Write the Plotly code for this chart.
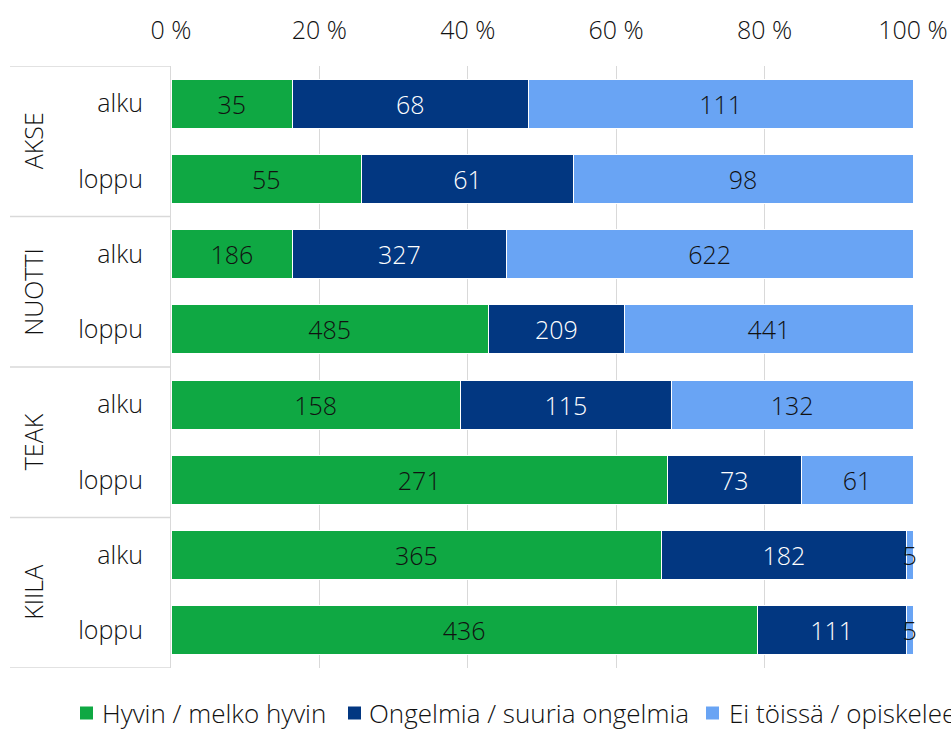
import plotly.graph_objects as go

groups = ["AKSE", "NUOTTI", "TEAK", "KIILA"]
phases = ["alku", "loppu"]
series_names = ["Hyvin / melko hyvin", "Ongelmia / suuria ongelmia", "Ei töissä / opiskelee"]
hyvin = [35, 55, 186, 485, 158, 271, 365, 436]
ongelmia = [68, 61, 327, 209, 115, 73, 182, 111]
ei_toissa = [111, 98, 622, 441, 132, 61, 5, 5]
x_ticks = [0, 20, 40, 60, 80, 100]
x_ticktext = [f"{v} %" for v in x_ticks]

colors = ["#0FA843", "#023781", "#69A4F4"]
text_colors = ["#111111", "#ffffff", "#111111"]

cats = [f"{g} {p}" for g in groups for p in phases]
ticktext = [p for g in groups for p in phases]

FONT = "Open Sans"
FS = 25
WEIGHT = 300
fig = go.Figure()
for name, vals, c, tc in zip(series_names, [hyvin, ongelmia, ei_toissa], colors, text_colors):
    fig.add_trace(go.Bar(
        y=cats, x=vals, name=name, orientation="h",
        marker=dict(color=c, line=dict(color="white", width=1)),
        text=vals, texttemplate="%{text}", textposition="inside",
        insidetextanchor="middle", textangle=0, constraintext="none",
        cliponaxis=False,
        textfont=dict(color=tc, size=FS, family=FONT, weight=WEIGHT),
        hoverinfo="skip", showlegend=False,
    ))

W, H = 951, 731
L, R, T, B = 171, 38, 66, 63
pw = W - L - R
ph = H - T - B

fig.update_layout(
    width=W, height=H, barmode="stack", barnorm="percent", bargap=0.35,
    margin=dict(l=L, r=R, t=T, b=B, autoexpand=False),
    plot_bgcolor="white", paper_bgcolor="white",
    font=dict(family=FONT, size=FS, color="#111111", weight=WEIGHT),
    xaxis=dict(side="top", range=[0, 100], tickvals=x_ticks, ticktext=x_ticktext,
               showgrid=True, gridcolor="#D9D9D9", gridwidth=1, zeroline=False,
               showline=False, ticks="", ticklabelstandoff=21,
               tickfont=dict(size=FS, family=FONT, color="#111111", weight=WEIGHT)),
    yaxis=dict(type="category", categoryorder="array", categoryarray=cats,
               tickvals=cats, ticktext=ticktext, range=[7.5, -0.5],
               showgrid=False, zeroline=False, showline=True, linecolor="#D9D9D9",
               linewidth=1, ticks="", ticklabelstandoff=22,
               tickfont=dict(size=FS, family=FONT, color="#111111", weight=WEIGHT)),
    showlegend=False,
)

x_left = (10 - L) / pw
for i in range(len(groups) + 1):
    yb = -0.5 + 2 * i
    fig.add_shape(type="line", xref="paper", yref="y", x0=x_left, x1=0, y0=yb, y1=yb,
                  line=dict(color="#D9D9D9", width=1.5), layer="below")
for i, g in enumerate(groups):
    fig.add_annotation(text=g, xref="paper", yref="y", x=(33 - L) / pw, y=0.5 + 2 * i,
                       textangle=-90, showarrow=False, xanchor="center", yanchor="middle",
                       font=dict(size=FS, family=FONT, color="#111111", weight=WEIGHT))

# legend (drawn as shapes + text)
leg_sq_x = [80, 348, 706]
leg_txt_x = [101, 368, 728]
leg_y = 713
sq = 13
for name, c, sx, tx in zip(series_names, colors, leg_sq_x, leg_txt_x):
    fig.add_shape(type="rect", xref="paper", yref="paper",
                  x0=(sx - L) / pw, x1=(sx + sq - L) / pw,
                  y0=(H - B - (leg_y - sq / 2)) / ph, y1=(H - B - (leg_y + sq / 2)) / ph,
                  fillcolor=c, line=dict(width=0))
    fig.add_annotation(text=name, xref="paper", yref="paper",
                       x=(tx - L) / pw, y=(H - B - leg_y) / ph,
                       xanchor="left", yanchor="middle", showarrow=False, borderpad=0,
                       font=dict(size=26, family=FONT, color="#111111", weight=WEIGHT))

fig.write_html("out.html")
